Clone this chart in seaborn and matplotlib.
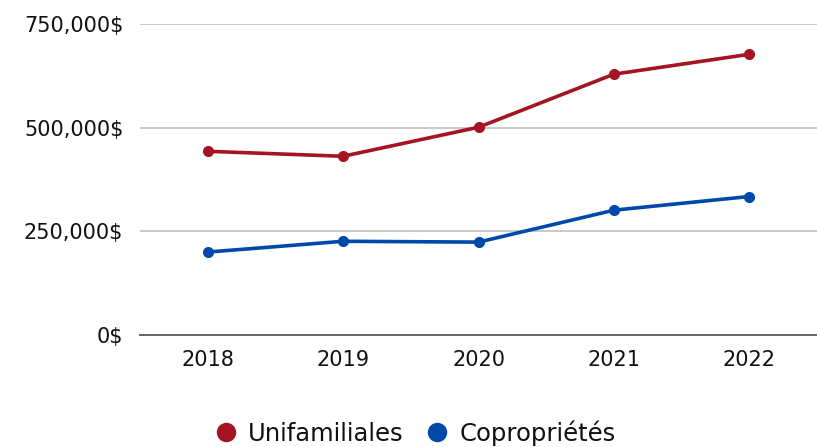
import matplotlib
matplotlib.use("Agg")
import matplotlib.pyplot as plt
import seaborn as sns
import pandas as pd
from matplotlib.ticker import FuncFormatter
from matplotlib.lines import Line2D

years = ["2018", "2019", "2020", "2021", "2022"]
unifamiliales = [443000, 431000, 501000, 629000, 677000]
coproprietes = [200000, 226000, 224000, 301000, 334000]
series_names = ["Unifamiliales", "Copropriétés"]
colors = ["#A51423", "#0049AA"]
y_ticks = [0, 250000, 500000, 750000]

sns.set_theme(style="white")
plt.rcParams["font.family"] = ["DejaVu Sans"]

df = pd.DataFrame({
    "Année": years * 2,
    "Prix": unifamiliales + coproprietes,
    "Type": [series_names[0]] * len(years) + [series_names[1]] * len(years),
})

fig = plt.figure(figsize=(8.17, 4.47), dpi=100)
ax = fig.add_axes([140 / 817, 1 - 335 / 447, 677 / 817, (335 - 24) / 447])

sns.lineplot(data=df, x="Année", y="Prix", hue="Type", palette=colors,
             marker="o", markersize=8, markeredgewidth=0, linewidth=2.6,
             ax=ax, legend=False)

ax.set_xlim(-0.5, len(years) - 0.5)
ax.set_ylim(0, 750000)
ax.set_yticks(y_ticks)
ax.yaxis.set_major_formatter(FuncFormatter(lambda v, p: f"{int(v):,}$"))
ax.grid(axis="y", color="#C0C0C0", linewidth=1.2)
ax.grid(axis="x", visible=False)
ax.set_axisbelow(True)
for side in ["top", "right", "left"]:
    ax.spines[side].set_visible(False)
ax.spines["bottom"].set_color("#666666")
ax.spines["bottom"].set_linewidth(1.4)
ax.set_xlabel("")
ax.set_ylabel("")
ax.tick_params(axis="both", length=0, labelsize=15, colors="#111111")
ax.tick_params(axis="x", pad=11)
ax.tick_params(axis="y", pad=12)

handles = [Line2D([0], [0], marker="o", linestyle="", markersize=14,
                  markerfacecolor=c, markeredgewidth=0) for c in colors]
fig.legend(handles, series_names, loc="center", bbox_to_anchor=(0.506, 1 - 433 / 447),
           ncol=2, frameon=False, fontsize=17.5, handletextpad=0.3,
           columnspacing=0.8, handlelength=1.2, labelcolor="#111111")

fig.savefig("out.png", dpi=100)
